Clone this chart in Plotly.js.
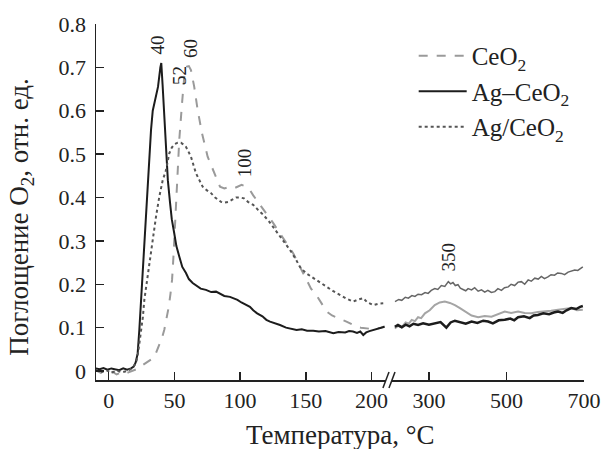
<!DOCTYPE html>
<html><head><meta charset="utf-8">
<script src="https://cdn.plot.ly/plotly-3.0.1.min.js"></script>
<style>html,body{margin:0;padding:0;background:#fff}#chart{width:605px;height:449px}</style>
</head><body><div id="chart"></div>
<script>
// ---- data (left part of broken axis: −10…210 °C) ----
const ceo2X = [-10,-6,-3,0,3,6,9,12,15,18,21,24,27,30,33,36,38.5,40.5,42.3,44,45.7,47,48.2,49.2,49.9,50.6,51.2,52.5,53.7,55.8,57.5,59.6,61,62.6,65.1,67.7,71,75.3,80.4,84.7,88,92.3,96,101.2,104,107.5,110,112.6,116,120.2,125,130.4,135,140.5,145.6,150.7,154,158.3,162,166,170,173.5,177,181,185,188.7,192,196.3,200,203,206.5,210];
const ceo2Y = [0.002,-0.004,0.001,-0.006,-0.002,-0.008,-0.004,-0.007,-0.003,0.0,0.004,0.01,0.016,0.02,0.028,0.042,0.06,0.076,0.095,0.12,0.148,0.178,0.21,0.26,0.302,0.34,0.379,0.456,0.533,0.617,0.678,0.702,0.703,0.694,0.655,0.602,0.548,0.494,0.456,0.425,0.421,0.425,0.422,0.429,0.426,0.417,0.405,0.394,0.38,0.364,0.342,0.317,0.295,0.271,0.24,0.21,0.19,0.174,0.155,0.137,0.128,0.124,0.12,0.114,0.108,0.102,0.1,0.098,0.097,0.098,0.099,0.103];

const agceX = [-10,-7,-4,-1,2,5,8,11,14,17,19,20.5,22,23.3,24.5,25.9,27,28.4,29.7,31,32.2,33.5,34.7,36,37.5,39.3,40,41,42.3,43.2,44.1,45,46.6,48,49.9,51.5,53.7,56,58.8,61,63.9,67,70,74,78,81.7,85,88,92.3,95,98,101,104,107.5,110,113,117,120,122.8,126,130.4,135,139,143,147,151,155.7,160,165,171,175,180,183,186,189,191.5,193.8,196,198.5,201.4,205,208,210];
const agceY = [0.006,0.004,0.007,0.003,0.006,0.004,0.002,0.006,0.003,0.006,0.01,0.02,0.04,0.095,0.16,0.226,0.285,0.34,0.417,0.49,0.556,0.6,0.617,0.63,0.655,0.7,0.71,0.66,0.579,0.535,0.494,0.44,0.39,0.35,0.317,0.288,0.264,0.24,0.226,0.212,0.203,0.196,0.19,0.187,0.182,0.183,0.178,0.173,0.171,0.168,0.164,0.158,0.153,0.148,0.14,0.133,0.126,0.118,0.114,0.111,0.106,0.1,0.097,0.0945,0.096,0.093,0.093,0.091,0.092,0.087,0.09,0.089,0.092,0.091,0.088,0.091,0.083,0.089,0.092,0.0945,0.096,0.099,0.102];

const agsX = [-10,-6,-2,2,6,10,14,16,18,20.8,22.5,24.6,26,27.1,28.8,30.4,32,33.5,36,38.5,41.1,43.6,46.1,48,50,52.5,55,57,58.8,60.5,62.6,64.5,66.4,69,71.5,74.5,77.9,81,85.5,88,91,94,97,100,103,106,110,113.5,117.7,122,127.9,133,138,142,145.6,150,155.7,160,166,171,176,181,186.2,190,193.8,197,201.4,205,209];
const agsY = [0.003,-0.003,0.002,-0.004,0.001,-0.003,0.0,0.003,0.008,0.018,0.045,0.087,0.125,0.164,0.2,0.24,0.277,0.31,0.356,0.402,0.44,0.463,0.502,0.515,0.523,0.526,0.526,0.522,0.517,0.507,0.494,0.475,0.456,0.44,0.425,0.417,0.41,0.4,0.39,0.388,0.39,0.395,0.4,0.4,0.398,0.39,0.383,0.372,0.36,0.345,0.321,0.3,0.279,0.26,0.24,0.226,0.214,0.205,0.194,0.184,0.175,0.167,0.16,0.165,0.168,0.158,0.152,0.155,0.156];

// ---- data (right part of broken axis: 210…700 °C) ----
const agceX2 = [212,220,230,240,250,260,272,285,300,315,330,345,356,367,380,395,410,425,440,452.6,465,480,495.6,510,520,530,545,560,570,581,595,610,622,633,645,655,667,680,690,697];
const agceY2 = [0.102,0.106,0.101,0.107,0.103,0.109,0.106,0.11,0.107,0.11,0.113,0.1,0.112,0.116,0.112,0.109,0.114,0.111,0.116,0.114,0.11,0.117,0.118,0.121,0.117,0.124,0.126,0.122,0.128,0.129,0.133,0.131,0.135,0.137,0.134,0.14,0.145,0.143,0.148,0.15];
const ceo2X2 = [212,220,230,240,248,255.5,264,272,280,289.7,302,315,328,341,354,367,380,392.7,410,427,444,461.4,478,495.6,512,530,547,564,581,598.6,615,633,650,667,682,697];
const ceo2Y2 = [0.098,0.104,0.101,0.112,0.109,0.118,0.115,0.124,0.122,0.133,0.14,0.152,0.158,0.16,0.157,0.152,0.145,0.137,0.128,0.124,0.127,0.125,0.131,0.137,0.134,0.137,0.134,0.133,0.136,0.137,0.139,0.141,0.143,0.145,0.14,0.141];
const agsX2 = [212.5,222,230,239,247,256,264,272,281,290,298,306,315,323,332,341,350,356,362,368,375,381,388,395,401,410,418,427,435.6,444,452,461,470,478,487,495,504.6,512,521,530,538.6,547,556,564,573,582,590,598,607,615,624,632,641.6,650,659,668,676,684,690,697];
const agsY2 = [0.16,0.165,0.163,0.17,0.168,0.174,0.172,0.177,0.176,0.181,0.179,0.186,0.19,0.188,0.197,0.195,0.206,0.201,0.204,0.197,0.199,0.191,0.188,0.185,0.19,0.187,0.192,0.184,0.187,0.182,0.186,0.181,0.183,0.19,0.186,0.192,0.194,0.2,0.197,0.205,0.206,0.2,0.21,0.207,0.214,0.212,0.218,0.213,0.217,0.222,0.221,0.226,0.225,0.222,0.228,0.231,0.233,0.232,0.236,0.24];

const seriesNames = ["CeO<sub>2</sub>", "Ag–CeO<sub>2</sub>", "Ag/CeO<sub>2</sub>"];
const xTicksLeft = [0, 50, 100, 150, 200];
const xTicksRight = [300, 500, 700];
const yTicks = [0, 0.1, 0.2, 0.3, 0.4, 0.5, 0.6, 0.7, 0.8];
const yTickText = ["0", "0.1", "0.2", "0.3", "0.4", "0.5", "0.6", "0.7", "0.8"];
const peakLabels = [
  {text: "40", x: 37.3, y: 0.752, axis: "x"},
  {text: "52", x: 53.7, y: 0.681, axis: "x"},
  {text: "60", x: 62.4, y: 0.744, axis: "x"},
  {text: "100", x: 103, y: 0.479, axis: "x"},
  {text: "350", x: 349.7, y: 0.262, axis: "x2"}
];

const FONT = "Liberation Serif";
const C_CE = "#9a9a9a", C_AGCE = "#1c1c1c", C_AGS = "#555555";

const traces = [
  {x: ceo2X, y: ceo2Y, name: seriesNames[0], mode: "lines", line: {color: C_CE, width: 2, dash: "dash"}, xaxis: "x", yaxis: "y"},
  {x: agceX, y: agceY, name: seriesNames[1], mode: "lines", line: {color: C_AGCE, width: 2}, xaxis: "x", yaxis: "y"},
  {x: agsX, y: agsY, name: seriesNames[2], mode: "lines", line: {color: C_AGS, width: 2, dash: "dot"}, xaxis: "x", yaxis: "y"},
  {x: agsX2, y: agsY2, showlegend: false, mode: "lines", line: {color: "#666", width: 1.5}, xaxis: "x2", yaxis: "y"},
  {x: ceo2X2, y: ceo2Y2, showlegend: false, mode: "lines", line: {color: "#a5a5a5", width: 2}, xaxis: "x2", yaxis: "y"},
  {x: agceX2, y: agceY2, showlegend: false, mode: "lines", line: {color: C_AGCE, width: 2.5}, xaxis: "x2", yaxis: "y"}
];

const axCommon = {
  showline: true, linecolor: "#222", linewidth: 1.5, ticks: "inside", ticklen: 8, tickwidth: 1.5, tickcolor: "#222",
  showgrid: false, zeroline: false, tickfont: {family: FONT, size: 22, color: "#222"}, fixedrange: true
};

const layout = {
  width: 605, height: 449,
  margin: {l: 96, r: 21, t: 24, b: 69},
  paper_bgcolor: "#fff", plot_bgcolor: "#fff",
  font: {family: FONT, color: "#222"},
  showlegend: true,
  legend: {x: 0.651, y: 0.975, xanchor: "left", yanchor: "top", font: {family: FONT, size: 25, color: "#222"},
           bgcolor: "rgba(0,0,0,0)", tracegroupgap: 0, itemwidth: 48},
  xaxis: Object.assign({}, axCommon, {domain: [0, 0.594], range: [-9.7, 211], tickvals: xTicksLeft, anchor: "y"}),
  xaxis2: Object.assign({}, axCommon, {domain: [0.6066, 1], range: [204.8, 700], tickvals: xTicksRight, anchor: "y"}),
  yaxis: Object.assign({}, axCommon, {range: [-0.0207, 0.8], tickvals: yTicks, ticktext: yTickText, ticklabelstandoff: 4}),
  shapes: [
    {type: "line", xref: "paper", yref: "paper", x0: 0.588, y0: -0.0225, x1: 0.6004, y1: 0.0225, line: {color: "#222", width: 1.5}},
    {type: "line", xref: "paper", yref: "paper", x0: 0.6004, y0: -0.0225, x1: 0.6127, y1: 0.0225, line: {color: "#222", width: 1.5}}
  ],
  annotations: peakLabels.map(p => ({text: p.text, x: p.x, y: p.y, xref: p.axis, yref: "y", showarrow: false,
      textangle: -90, font: {family: FONT, size: 19, color: "#222"}})).concat([
    {text: "Температура, °C", xref: "paper", yref: "paper", x: 0.502, y: -0.154, showarrow: false,
     xanchor: "center", yanchor: "middle", font: {family: FONT, size: 27, color: "#222"}},
    {text: "Поглощение O<sub>2</sub>, отн. ед.", xref: "paper", yref: "paper", x: -0.154, y: 0.458, showarrow: false,
     textangle: -90, xanchor: "center", yanchor: "middle", font: {family: FONT, size: 27, color: "#222"}}
  ])
};

Plotly.newPlot("chart", traces, layout, {staticPlot: true, displayModeBar: false});
</script></body></html>
